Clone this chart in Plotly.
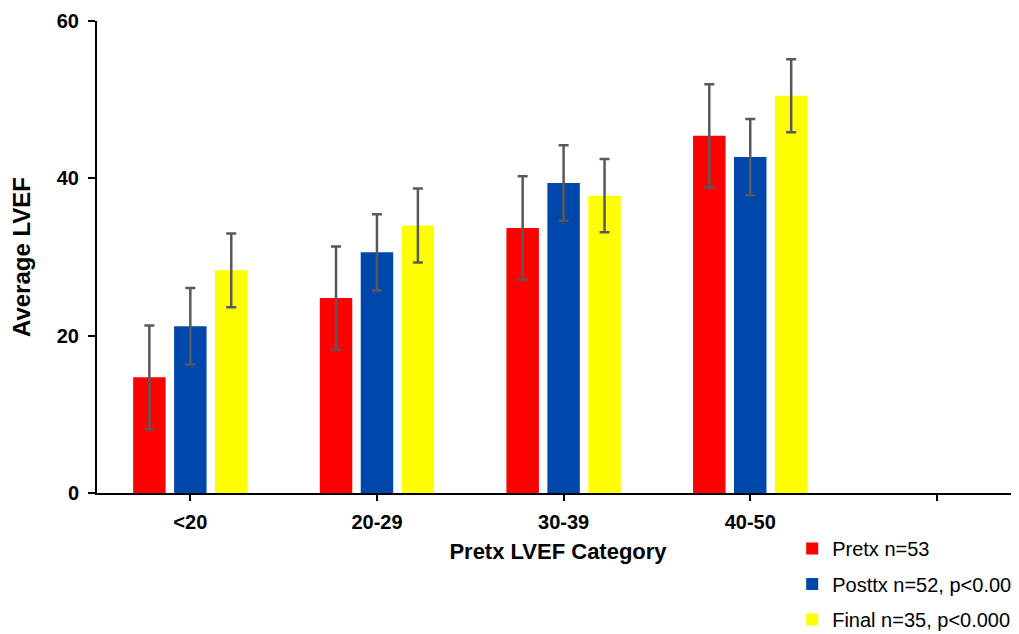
import plotly.graph_objects as go

categories = ["<20", "20-29", "30-39", "40-50", ""]
series_names = ["Pretx n=53", "Posttx n=52, p<0.001", "Final n=35, p<0.0002"]
pretx = [14.7, 24.8, 33.7, 45.4]
posttx = [21.2, 30.6, 39.4, 42.7]
final = [28.3, 34.0, 37.8, 50.5]
pretx_err = [6.6, 6.55, 6.55, 6.55]
posttx_err = [4.85, 4.85, 4.8, 4.85]
final_err = [4.7, 4.7, 4.65, 4.65]
colors = ["#FF0000", "#0047AB", "#FFFF00"]

x_idx = list(range(len(pretx)))
fig = go.Figure()
for name, vals, errs, col in zip(series_names, [pretx, posttx, final],
                                 [pretx_err, posttx_err, final_err], colors):
    fig.add_trace(go.Bar(
        x=x_idx, y=vals, name=name, legendgroup=name,
        marker=dict(color=col, line=dict(width=0)),
        error_y=dict(type="data", array=errs, visible=True,
                     color="#595959", thickness=2.5, width=5),
    ))

font_family = "Liberation Sans, Arial, sans-serif"
fig.update_layout(
    width=1011, height=626,
    paper_bgcolor="white", plot_bgcolor="white",
    barmode="group", bargap=0.342, bargroupgap=0.207,
    margin=dict(l=89, r=0, t=13, b=141, autoexpand=False),
    font=dict(family=font_family, color="black"),
    showlegend=True,
    legend=dict(x=0.754, xanchor="left", y=-0.0765, yanchor="top",
                font=dict(size=20, family=font_family, color="black"),
                tracegroupgap=6.5, bgcolor="rgba(0,0,0,0)"),
    xaxis=dict(
        range=[-0.5, 4.44], tickmode="array",
        tickvals=list(range(len(categories))), ticktext=categories,
        showline=True, linecolor="black", linewidth=2,
        ticks="outside", ticklen=6, tickwidth=2, tickcolor="black",
        tickfont=dict(size=20, family=font_family, color="black", weight="bold"),
        ticklabelstandoff=4,
        showgrid=False, zeroline=False,
        title=dict(text="<b>Pretx LVEF Category</b>", standoff=12,
                   font=dict(size=22, family=font_family, color="black")),
    ),
    yaxis=dict(
        range=[0, 60], tickvals=[0, 20, 40, 60],
        showline=True, linecolor="black", linewidth=2,
        ticks="outside", ticklen=7, tickwidth=2, tickcolor="black",
        tickfont=dict(size=20, family=font_family, color="black", weight="bold"),
        ticklabelstandoff=5,
        showgrid=False, zeroline=False,
        title=dict(text="<b>Average LVEF</b>", standoff=22,
                   font=dict(size=24, family=font_family, color="black")),
    ),
)

fig.write_html("out.html")
